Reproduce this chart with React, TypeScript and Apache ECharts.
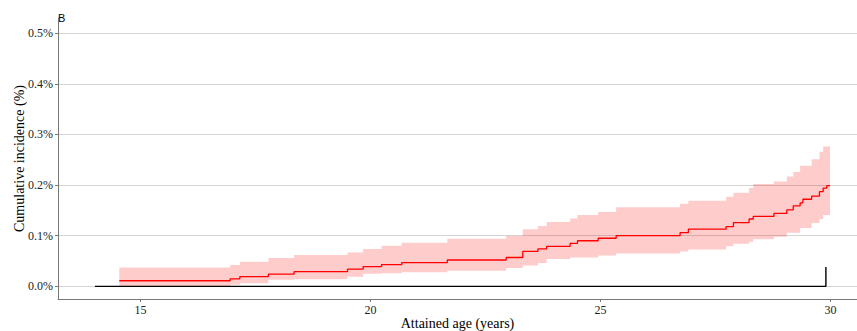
import React, { useEffect, useRef } from "react";
import * as echarts from "echarts";

// Attained age (years) at which each step of the estimate starts
const ages = [
  14.54, 16.95, 17.16, 17.78, 18.34, 19.5, 19.84, 20.24, 20.68, 21.67, 22.95,
  23.31, 23.64, 23.83, 24.34, 24.5, 24.95, 25.34, 26.73, 26.91, 27.73, 27.89,
  28.23, 28.32, 28.77, 29.05, 29.19, 29.34, 29.4, 29.59, 29.76, 29.84, 29.92,
  29.99,
];
// Cumulative incidence estimate (%)
const estimate = [
  0.011, 0.0148, 0.0193, 0.024, 0.029, 0.034, 0.039, 0.043, 0.047, 0.052,
  0.057, 0.069, 0.074, 0.079, 0.085, 0.09, 0.095, 0.1, 0.106, 0.113, 0.118,
  0.126, 0.133, 0.138, 0.144, 0.151, 0.159, 0.165, 0.172, 0.178, 0.187, 0.194,
  0.199, 0.199,
];
// Lower confidence limit (%)
const lower = [
  0.0, 0.003, 0.006, 0.013, 0.014, 0.019, 0.025, 0.026, 0.028, 0.031, 0.036,
  0.041, 0.046, 0.054, 0.057, 0.057, 0.061, 0.065, 0.069, 0.073, 0.079, 0.084,
  0.088, 0.093, 0.098, 0.106, 0.106, 0.115, 0.115, 0.125, 0.133, 0.141, 0.141,
  0.141,
];
// Upper confidence limit (%)
const upper = [
  0.037, 0.042, 0.0485, 0.056, 0.062, 0.067, 0.074, 0.08, 0.086, 0.094, 0.1,
  0.113, 0.119, 0.127, 0.134, 0.141, 0.147, 0.156, 0.163, 0.169, 0.177, 0.185,
  0.194, 0.202, 0.207, 0.217, 0.226, 0.238, 0.238, 0.251, 0.266, 0.276, 0.276,
  0.276,
];
// Comparison group: zero until the end, then a single jump
const refAges = [14.01, 29.9];
const refValues = [0, 0.038];

const xTicks = [15, 20, 25, 30];
const yTicks = [0, 0.1, 0.2, 0.3, 0.4, 0.5];

export default function App() {
  const ref = useRef<HTMLDivElement>(null);

  useEffect(() => {
    if (!ref.current) return;
    const chart = echarts.init(ref.current, undefined, { renderer: "svg" });

    const bandData = ages.map((a, i) => [a, lower[i], upper[i]]);
    const estData = ages.map((a, i) => [a, estimate[i]]);
    const refData = refAges.map((a, i) => [a, refValues[i]]);

    const serif = "Liberation Serif";

    chart.setOption({
      animation: false,
      backgroundColor: "#ffffff",
      textStyle: { fontFamily: serif },
      grid: {
        left: 58,
        right: 0,
        top: 18,
        bottom: 32,
        containLabel: false,
        outerBoundsMode: "none",
      },
      graphic: [
        {
          type: "text",
          left: 58,
          top: 12,
          style: {
            text: "B",
            font: "11px 'Liberation Sans', Arial, sans-serif",
            fill: "#000",
          },
        },
      ],
      xAxis: {
        type: "value",
        min: 13.207,
        max: 30.576,
        name: "Attained age (years)",
        nameLocation: "middle",
        nameGap: 17,
        nameMoveOverlap: false,
        nameTextStyle: { fontFamily: serif, fontSize: 14, color: "#000" },
        axisLine: { show: true, onZero: false, lineStyle: { color: "#777", width: 1 } },
        axisTick: {
          show: true,
          length: 3,
          customValues: xTicks,
          lineStyle: { color: "#777" },
        },
        axisLabel: {
          customValues: xTicks,
          margin: 5,
          fontFamily: serif,
          fontSize: 12,
          color: "#222",
        },
        splitLine: { show: false },
      },
      yAxis: {
        type: "value",
        min: -0.025,
        max: 0.53,
        name: "Cumulative incidence (%)",
        nameLocation: "middle",
        nameGap: 32,
        nameMoveOverlap: false,
        nameTextStyle: { fontFamily: serif, fontSize: 14, color: "#000" },
        axisLine: { show: true, lineStyle: { color: "#777", width: 1 } },
        axisTick: {
          show: true,
          length: 3,
          customValues: yTicks,
          lineStyle: { color: "#777" },
        },
        axisLabel: {
          customValues: yTicks,
          margin: 5,
          fontFamily: serif,
          fontSize: 12,
          color: "#222",
          formatter: (v: number) => v.toFixed(1) + "%",
        },
        splitLine: {
          show: true,
          lineStyle: { color: "#d4d4d4", width: 1 },
        },
      },
      series: [
        {
          type: "custom",
          name: "band",
          data: bandData,
          silent: true,
          z: 1,
          renderItem: (params: any, api: any) => {
            if (params.dataIndex !== 0) return null;
            const pts: number[][] = [];
            // upper edge, step "hv"
            for (let i = 0; i < bandData.length; i++) {
              const [a, , up] = bandData[i];
              if (i > 0) pts.push(api.coord([a, bandData[i - 1][2]]));
              pts.push(api.coord([a, up]));
            }
            // lower edge, backwards
            for (let i = bandData.length - 1; i >= 0; i--) {
              const [a, lo] = bandData[i];
              pts.push(api.coord([a, lo]));
              if (i > 0) pts.push(api.coord([a, bandData[i - 1][1]]));
            }
            return {
              type: "polygon",
              shape: { points: pts },
              style: { fill: "rgba(255,0,0,0.2)", stroke: "none" },
            };
          },
        },
        {
          type: "line",
          name: "estimate",
          data: estData,
          step: "end",
          showSymbol: false,
          symbol: "none",
          lineStyle: { color: "#ff0000", width: 1.3 },
          z: 3,
        },
        {
          type: "line",
          name: "reference",
          data: refData,
          step: "end",
          showSymbol: false,
          symbol: "none",
          lineStyle: { color: "#000000", width: 1.4 },
          z: 4,
        },
      ],
    });

    return () => chart.dispose();
  }, []);

  return (
    <div
      ref={ref}
      style={{ position: "absolute", left: 0, top: 0, width: 857, height: 331 }}
    />
  );
}
